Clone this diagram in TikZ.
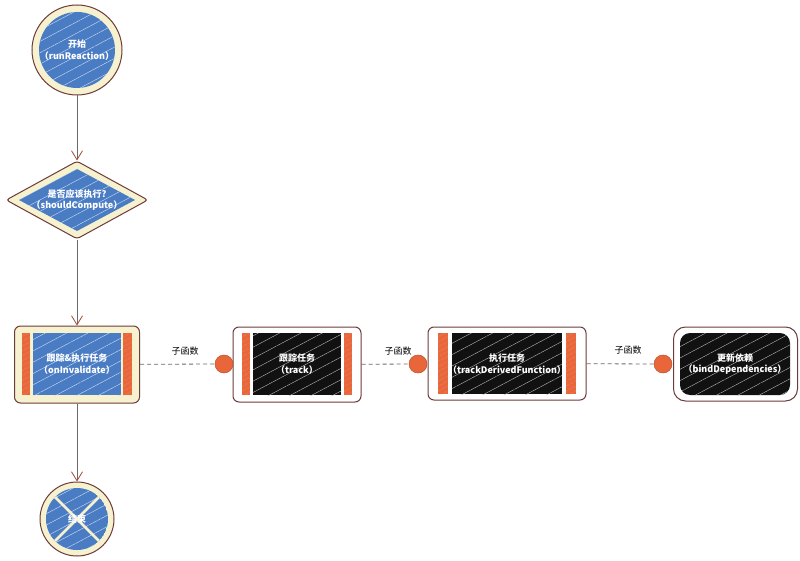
\documentclass[tikz,border=0pt]{standalone}
\usepackage{fontspec}
\setmainfont{Noto Sans CJK SC}
\usetikzlibrary{shapes.geometric,patterns.meta,arrows.meta}
\definecolor{sblue}{HTML}{4A7CC4}
\definecolor{cream}{HTML}{F6F1CF}
\definecolor{brd}{HTML}{6E3B3B}
\definecolor{org}{HTML}{E8663A}
\definecolor{arr}{HTML}{A0493A}
\definecolor{lgray}{HTML}{6A6A6A}
\definecolor{ink}{HTML}{111111}
\tikzset{
  outer/.style={draw=brd, line width=1pt},
  bluefill/.style={fill=sblue, postaction={pattern={Lines[angle=28,distance=10pt,line width=0.4pt]}, pattern color=white!75!sblue}},
  blackfill/.style={fill=ink, postaction={pattern={Lines[angle=28,distance=10pt,line width=0.4pt]}, pattern color=white!70!ink}},
  barfill/.style={fill=org, postaction={pattern={Lines[angle=28,distance=4pt,line width=0.3pt]}, pattern color=white!50!org}},
  txt/.style={text=white, font=\fontsize{9}{11.5}\selectfont\bfseries, align=center},
  subtxt/.style={font=\fontsize{9}{10}\selectfont, text=black},
  flow/.style={draw=lgray, line width=1pt, -{Straight Barb[color=arr,length=9pt,width=11pt,line width=0.8pt]}},
  dashline/.style={draw=lgray, line width=0.8pt, dash pattern=on 4pt off 3pt},
  dotnode/.style={circle, fill=org, draw=org!80!black, line width=0.5pt, minimum size=18pt, inner sep=0pt}
}
\begin{document}
\begin{tikzpicture}[x=1pt,y=-1pt]
\useasboundingbox (0,0) rectangle (800,561);
% start
\node[circle, outer, fill=cream, minimum size=90pt, inner sep=0pt] (start) at (77,50) {};
\fill[bluefill] (77,50) circle (38);
\node[txt] (startt) at (77,50) {开始\\（runReaction）};
% decide
\node[diamond, outer, fill=cream, minimum width=142pt, minimum height=78pt, inner sep=0pt, rounded corners=3pt] (decide) at (77,200) {};
\fill[bluefill] (19,200) -- (77,169) -- (135,200) -- (77,231) -- cycle;
\node[txt] (decidet) at (77,200) {是否应该执行?\\（shouldCompute）};
% box1
\node[rectangle, outer, fill=cream, rounded corners=6pt, minimum width=125pt, minimum height=77pt] (box1) at (77,364.5) {};
\fill[bluefill] (33,333) rectangle (121,395);
\fill[barfill] (22,333) rectangle (30,395);
\fill[barfill] (123,333) rectangle (132,395);
\node[txt] (box1t) at (77,364) {跟踪\&执行任务\\（onInvalidate）};
% box2
\node[rectangle, outer, fill=white, rounded corners=6pt, minimum width=128pt, minimum height=75pt] (box2) at (297,364.5) {};
\fill[blackfill] (253,333) rectangle (341,395);
\fill[barfill] (242,333) rectangle (250,395);
\fill[barfill] (344,333) rectangle (352,395);
\node[txt] (box2t) at (297,364) {跟踪任务\\（track）};
% box3
\node[rectangle, outer, fill=white, rounded corners=6pt, minimum width=158pt, minimum height=73pt] (box3) at (507,363.5) {};
\fill[blackfill] (452,333) rectangle (562,394);
\fill[barfill] (438,333) rectangle (448,394);
\fill[barfill] (566,333) rectangle (576,394);
\node[txt] (box3t) at (507,364) {执行任务\\（trackDerivedFunction）};
% box4
\node[rectangle, outer, fill=white, rounded corners=12pt, minimum width=124pt, minimum height=74pt] (box4) at (735.5,364) {};
\fill[blackfill, rounded corners=10pt] (680,333) rectangle (790,395);
\node[txt] (box4t) at (735,364) {更新依赖\\（bindDependencies）};
% end
\node[circle, outer, fill=cream, minimum size=74pt, inner sep=0pt] (stop) at (77,519) {};
\begin{scope}
\clip (77,519) circle (31);
\fill[bluefill] (77,519) circle (31);
\draw[cream, line width=2.5pt] (45,487) -- (109,551);
\draw[cream, line width=2.5pt] (109,487) -- (45,551);
\end{scope}
\node[txt] (stopt) at (77,519) {结束};
% dots
\node[dotnode] (c2) at (224,364) {};
\node[dotnode] (c3) at (418,364) {};
\node[dotnode] (c4) at (663,364) {};
% connectors
\draw[flow] (start) -- (decide);
\draw[flow] (decide) -- (box1);
\draw[flow] (box1) -- (stop);
\draw[dashline] (box1) -- (c2);
\draw[dashline] (box2) -- (c3);
\draw[dashline] (box3) -- (c4);
\node[subtxt] (l2) at (185,351) {子函数};
\node[subtxt] (l3) at (398,351) {子函数};
\node[subtxt] (l4) at (628,350) {子函数};
\end{tikzpicture}
\end{document}
